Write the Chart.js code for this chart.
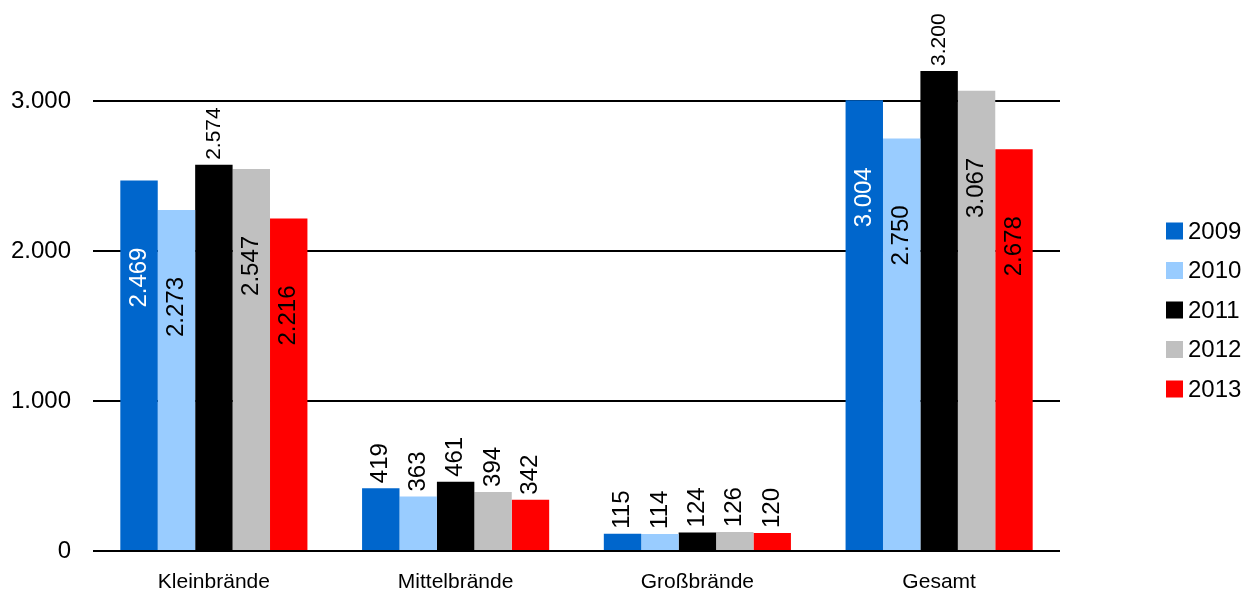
<!DOCTYPE html>
<html>
<head>
<meta charset="utf-8">
<script src="https://cdn.jsdelivr.net/npm/chart.js@4.4.1/dist/chart.umd.min.js"></script>
<style>
  html, body { margin: 0; padding: 0; background: #fff; }
  #wrap { width: 1255px; height: 594px; }
</style>
</head>
<body>
<div id="wrap"><canvas id="brandChart"></canvas></div>
<script>
var categories = ["Kleinbrände", "Mittelbrände", "Großbrände", "Gesamt"];
var years = ["2009", "2010", "2011", "2012", "2013"];
var values2009 = [2469, 419, 115, 3004];
var values2010 = [2273, 363, 114, 2750];
var values2011 = [2574, 461, 124, 3200];
var values2012 = [2547, 394, 126, 3067];
var values2013 = [2216, 342, 120, 2678];
var yTicks = [0, 1000, 2000, 3000];

var barColors = ["#0066CC", "#99CCFF", "#000000", "#C0C0C0", "#FF0000"];
var fontFamily = "'Liberation Sans', Arial, sans-serif";

// 1234 -> "1.234"
function fmt(v) {
    return String(v).replace(/\B(?=(\d{3})+(?!\d))/g, ".");
}

var series = [values2009, values2010, values2011, values2012, values2013];

// rotated value labels, inside the tall bars, above the rest
var barLabels = {
    id: "barLabels",
    afterDatasetsDraw: function (chart) {
        var ctx = chart.ctx;
        chart.data.datasets.forEach(function (ds, i) {
            var meta = chart.getDatasetMeta(i);
            meta.data.forEach(function (bar, j) {
                var v = ds.data[j];
                var groupMax = Math.max.apply(null, series.map(function (s) { return s[j]; }));
                var inside = v > 1000 && v < groupMax;
                ctx.save();
                ctx.translate(bar.x, inside ? bar.y + 97 : bar.y - 5);
                ctx.rotate(-Math.PI / 2);
                ctx.font = (v > 1000 && !inside ? 21 : 24) + "px " + fontFamily;
                ctx.fillStyle = inside && i === 0 ? "#ffffff" : "#000000";
                ctx.textAlign = inside ? "center" : "left";
                ctx.textBaseline = "middle";
                ctx.fillText(fmt(v), 0, 0);
                ctx.restore();
            });
        });
    }
};

// legend on the right, drawn by hand to get the spacing right
var sideLegend = {
    id: "sideLegend",
    afterDraw: function (chart) {
        var ctx = chart.ctx;
        ctx.save();
        ctx.font = "24px " + fontFamily;
        ctx.textBaseline = "middle";
        ctx.textAlign = "left";
        chart.data.datasets.forEach(function (ds, i) {
            var y = 231 + i * 39.5;
            ctx.fillStyle = ds.backgroundColor;
            ctx.fillRect(1166, y - 8.5, 17, 17);
            ctx.fillStyle = "#000";
            ctx.fillText(ds.label, 1188, y + 1);
        });
        ctx.restore();
    }
};

var datasets = years.map(function (y, i) {
    return {
        label: y,
        data: series[i],
        backgroundColor: barColors[i],
        borderWidth: 0,
        barPercentage: 1,
        categoryPercentage: 0.774
    };
});

Chart.defaults.color = "#000";
Chart.defaults.font.family = fontFamily;

var brandChart = new Chart(document.getElementById("brandChart"), {
    type: "bar",
    data: { labels: categories, datasets: datasets },
    options: {
        responsive: true,
        maintainAspectRatio: false,
        animation: false,
        layout: { padding: { top: 16, right: 195, bottom: 0, left: 12 } },
        plugins: {
            legend: { display: false },
            tooltip: { enabled: false }
        },
        scales: {
            x: {
                grid: { display: false },
                border: { display: false },
                ticks: { font: { size: 21 }, padding: 11 },
                afterFit: function (axis) { axis.height = 43; }
            },
            y: {
                min: 0,
                max: 3430,
                afterBuildTicks: function (axis) {
                    axis.ticks = yTicks.map(function (v) { return { value: v }; });
                },
                afterFit: function (axis) { axis.width = 81; },
                border: { display: false },
                grid: { color: "#000", lineWidth: 2, drawTicks: false },
                ticks: {
                    font: { size: 24 },
                    padding: 22,
                    callback: function (v) { return fmt(v); }
                }
            }
        }
    },
    plugins: [barLabels, sideLegend]
});
</script>
</body>
</html>
